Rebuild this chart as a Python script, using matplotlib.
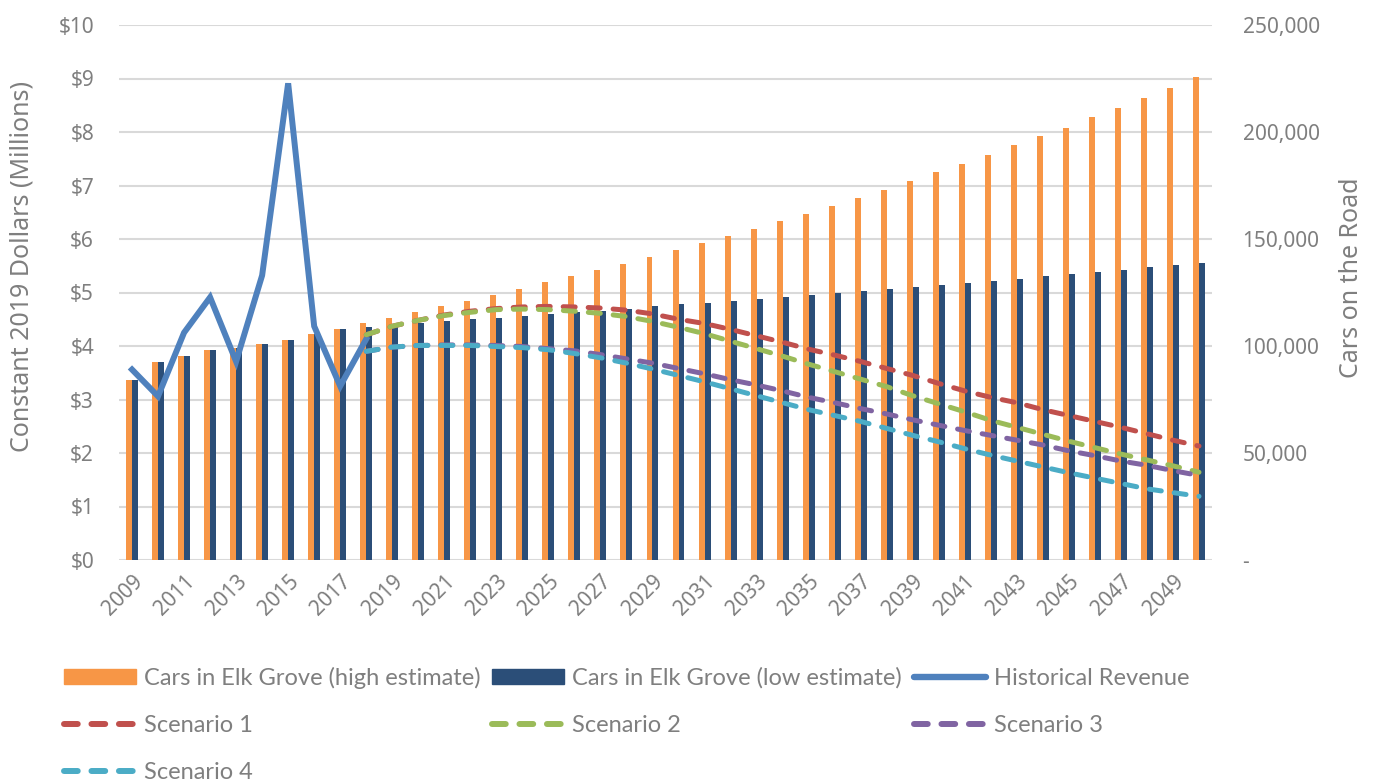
import numpy as np
import matplotlib
matplotlib.use("Agg")
import matplotlib.pyplot as plt
from matplotlib.ticker import MultipleLocator, FuncFormatter
from matplotlib.lines import Line2D
from matplotlib.patches import Patch

# ---- data ----
years = list(range(2009, 2051))

cars_high = [84000, 92750, 95500, 98250, 99250, 101000, 102750, 105750, 108000, 110750,
             113000, 115750, 118500, 121000, 124000, 126750, 129750, 132500, 135500, 138500,
             141500, 144750, 148250, 151500, 154750, 158500, 161750, 165500, 169250, 173000,
             177200, 181100, 185200, 189300, 193700, 198000, 202100, 206900, 211300, 215900,
             220600, 225600]
cars_low = [84000, 92750, 95500, 98250, 99250, 101000, 102750, 105750, 108000, 108750,
            109750, 110750, 111750, 112500, 113250, 114250, 115000, 115750, 116500, 117500,
            118500, 119500, 120250, 121000, 122000, 123000, 124000, 124750, 125750, 126750,
            127600, 128700, 129600, 130600, 131500, 132600, 133700, 134600, 135600, 136700,
            137800, 138900]

hist_years = list(range(2009, 2019))
hist_revenue = [3.56, 3.06, 4.25, 4.91, 3.71, 5.32, 8.91, 4.37, 3.25, 4.13]

scen_years = list(range(2018, 2051))
scenario1 = [4.21, 4.37, 4.48, 4.58, 4.65, 4.70, 4.73, 4.74, 4.73, 4.71, 4.67, 4.60, 4.50,
             4.42, 4.31, 4.19, 4.07, 3.94, 3.83, 3.71, 3.58, 3.45, 3.30, 3.16, 3.04, 2.94,
             2.81, 2.70, 2.59, 2.48, 2.36, 2.24, 2.13]
scenario2 = [4.21, 4.37, 4.48, 4.57, 4.63, 4.68, 4.69, 4.68, 4.65, 4.61, 4.55, 4.46, 4.35,
             4.23, 4.09, 3.95, 3.81, 3.66, 3.52, 3.38, 3.24, 3.07, 2.92, 2.77, 2.61, 2.48,
             2.35, 2.22, 2.10, 1.98, 1.87, 1.76, 1.64]
scenario3 = [3.90, 3.98, 4.01, 4.02, 4.02, 4.01, 3.99, 3.95, 3.91, 3.84, 3.76, 3.68, 3.58,
             3.48, 3.37, 3.27, 3.16, 3.04, 2.94, 2.83, 2.73, 2.62, 2.52, 2.42, 2.33, 2.24,
             2.15, 2.04, 1.95, 1.85, 1.77, 1.67, 1.58]
scenario4 = [3.90, 3.98, 4.01, 4.01, 4.01, 3.99, 3.97, 3.93, 3.86, 3.78, 3.68, 3.57, 3.45,
             3.33, 3.20, 3.07, 2.94, 2.81, 2.70, 2.59, 2.46, 2.33, 2.21, 2.08, 1.96, 1.85,
             1.74, 1.63, 1.53, 1.43, 1.33, 1.26, 1.19]

# ---- style ----
grey = "#7f7f7f"
c_high, c_low, c_hist = "#F79646", "#2B4E78", "#4F81BD"
scen_colors = ["#C0504D", "#9BBB59", "#8064A2", "#4BACC6"]
tick_font = "Noto Sans"
leg_font = "Lato"

fig = plt.figure(figsize=(13.76, 7.83), dpi=100)
ax = fig.add_axes([119/1376, 1-560/783, (1212-119)/1376, (560-25)/783])
ax2 = ax.twinx()

# bars on secondary axis, drawn behind the lines
x = np.arange(len(years))
bw = 0.23
ax2.bar(x - bw/2, cars_high, width=bw, color=c_high, zorder=2)
ax2.bar(x + bw/2, cars_low, width=bw, color=c_low, zorder=2)
ax2.set_ylim(0, 250000)
ax2.yaxis.set_major_locator(MultipleLocator(50000))
ax2.yaxis.set_minor_locator(MultipleLocator(25000))
ax2.grid(which="both", axis="y", color="#d9d9d9", linewidth=1.5, zorder=0)
ax2.set_axisbelow(True)
ax2.yaxis.set_major_formatter(FuncFormatter(lambda v, p: "-" if v == 0 else f"{int(v):,}"))

ax.set_zorder(ax2.get_zorder() + 1)
ax.patch.set_visible(False)

idx = {y: i for i, y in enumerate(years)}
hx = [idx[y] for y in hist_years]
sx = [idx[y] for y in scen_years]
ax.plot(hx, hist_revenue, color=c_hist, lw=4.3, solid_joinstyle="miter", zorder=3)
for vals, col in zip([scenario1, scenario2, scenario3, scenario4], scen_colors):
    ax.plot(sx, vals, color=col, lw=3.6, linestyle=(0, (2.4, 2.6)), dash_capstyle="round", zorder=4)

ax.set_ylim(0, 10)
ax.set_xlim(-0.5, len(years) - 0.5)
ax.yaxis.set_major_locator(MultipleLocator(1))
ax.yaxis.set_major_formatter(FuncFormatter(lambda v, p: f"${int(v)}"))
ax.set_xticks(x[::2])
ax.set_xticklabels([str(y) for y in years[::2]], rotation=45, ha="right", rotation_mode="anchor",
                   fontsize=15, color=grey, family=tick_font)

for a in (ax, ax2):
    for s in a.spines.values():
        s.set_visible(False)
ax.tick_params(axis="y", length=0, pad=18, labelsize=15, labelcolor=grey)
ax.tick_params(axis="x", length=0, pad=8)
ax2.tick_params(axis="y", which="both", length=0, pad=22, labelsize=15, labelcolor=grey)
for lab in ax.get_yticklabels() + ax2.get_yticklabels():
    lab.set_family(tick_font)

ax.set_ylabel("Constant 2019 Dollars (Millions)", fontsize=18, color=grey, family=tick_font)
ax2.set_ylabel("Cars on the Road", fontsize=18, color=grey, family=tick_font)
for a, cx, cy in ((ax, (22-119)/1093, (560-267)/535), (ax2, (1352-119)/1093, (560-278)/535)):
    a.yaxis.set_label_coords(cx, cy)
    a.yaxis.label.set_va("center")
    a.yaxis.label.set_ha("center")

# legend proxies, column-major order so the rows read like the original
dash_leg = dict(lw=4.3, linestyle=(0, (2.3, 2.3)), dash_capstyle="round")
items = [
    (Patch(color=c_high), "Cars in Elk Grove (high estimate)"),
    (Line2D([], [], color=scen_colors[0], **dash_leg), "Scenario 1"),
    (Line2D([], [], color=scen_colors[3], **dash_leg), "Scenario 4"),
    (Patch(color=c_low), "Cars in Elk Grove (low estimate)"),
    (Line2D([], [], color=scen_colors[1], **dash_leg), "Scenario 2"),
    (Line2D([], [], color=c_hist, lw=4.6, solid_capstyle="round"), "Historical Revenue"),
    (Line2D([], [], color=scen_colors[2], **dash_leg), "Scenario 3"),
]
leg = fig.legend([h for h, _ in items], [l for _, l in items], ncol=3, loc="upper left",
                 bbox_to_anchor=(52/1376, 1-655/783), frameon=False, borderpad=0,
                 handlelength=3.05, handleheight=0.64, handletextpad=0.34, columnspacing=0.5,
                 labelspacing=1.1, prop={"family": leg_font, "size": 17})
for t in leg.get_texts():
    t.set_color(grey)

fig.savefig("out.png", dpi=100, facecolor="white")
